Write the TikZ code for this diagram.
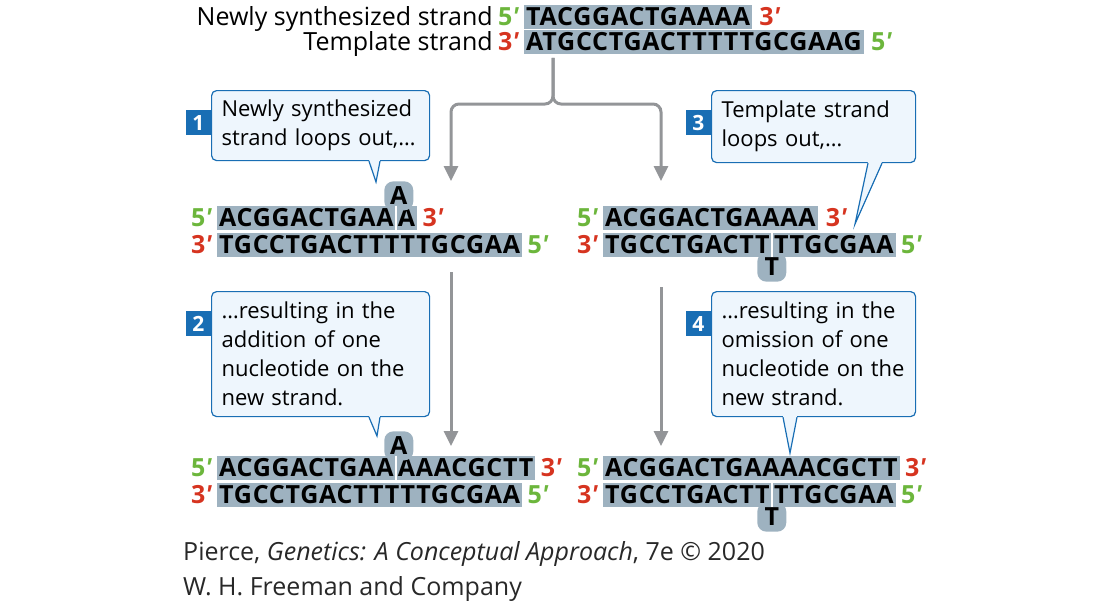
\documentclass[tikz,border=0pt]{standalone}
\usepackage{fontspec}
\setmainfont{Open Sans}
\usetikzlibrary{positioning}
\usetikzlibrary{arrows.meta}
\definecolor{seqgray}{RGB}{158,178,192}
\definecolor{fivegreen}{RGB}{108,182,60}
\definecolor{threered}{RGB}{214,52,32}
\definecolor{boxblue}{RGB}{25,110,180}
\definecolor{boxfill}{RGB}{238,246,253}
\definecolor{flowgray}{RGB}{147,149,152}
\definecolor{creditgray}{RGB}{40,40,40}
\newcommand{\seqfont}{\fontsize{25}{25}\selectfont\bfseries\addfontfeature{LetterSpace=3}}
\newcommand{\prm}{{\itshape ′}}

\begin{document}
\begin{tikzpicture}[x=1pt,y=-1pt]
      \tikzset{
        seq/.style={fill=seqgray, inner xsep=2pt, inner ysep=0pt, minimum height=24.5pt,
          text height=17.5pt, text depth=0pt, font=\seqfont},
        endfive/.style={seq, fill=none, inner xsep=0pt, text=fivegreen},
        endthree/.style={seq, fill=none, inner xsep=0pt, text=threered},
        loopout/.style={seq, rounded corners=9pt, minimum width=29pt, minimum height=29pt},
        strandlab/.style={inner sep=0pt, minimum height=24.5pt, text height=17.5pt, text depth=0pt,
          font=\fontsize{25}{25}\selectfont},
        callout/.style={draw=boxblue, fill=boxfill, line width=1.2pt, rounded corners=5pt,
          align=left, inner xsep=10pt, inner ysep=4pt, anchor=north west,
          font=\fontsize{22}{29}\selectfont},
        steplabel/.style={fill=boxblue, text=white, inner sep=0pt, minimum size=25pt,
          anchor=north east, font=\fontsize{21}{21}\selectfont\bfseries},
        tailline/.style={draw=boxblue, line width=1.2pt},
        flow/.style={draw=flowgray, line width=3pt, -{Triangle[length=15pt,width=14pt]}},
        splitline/.style={draw=white, line width=1.5pt},
      }
      \useasboundingbox (0,0) rectangle (1100,610);

      \node[seq, anchor=west] (newtop) at (524,17) {TACGGACTGAAAA};
      \node[endfive, left=5pt of newtop] (newtop5) {5\prm};
      \node[endthree, right=7pt of newtop] (newtop3) {3\prm};
      \node[strandlab, left=5pt of newtop5] (newlab) {Newly synthesized strand};
      \node[seq, anchor=west] (tmpl) at (524,42) {ATGCCTGACTTTTTGCGAAG};
      \node[endthree, left=5pt of tmpl] (tmpl3) {3\prm};
      \node[endfive, right=7pt of tmpl] (tmpl5) {5\prm};
      \node[strandlab, left=5pt of tmpl3] (tmpllab) {Template strand};

      \coordinate (stem) at (553,58);
      \coordinate (fork) at (553,104);
      \coordinate (forkleft) at (451,181);
      \coordinate (forkright) at (661,181);
      \draw[flow, rounded corners=8pt] (stem) -- (fork) -| (forkleft);
      \draw[flow, rounded corners=8pt] (stem) -- (fork) -| (forkright);

      \node[callout, text width=198pt, minimum height=70pt] (c1) at (211,90)
        {Newly synthesized\\strand loops out,…};
      \node[steplabel] (s1) at ([yshift=-20pt]c1.north west) {1};
      \node[callout, text width=198pt, minimum height=125pt] (c2) at (211,291)
        {…resulting in the\\addition of one\\nucleotide on the\\new strand.};
      \node[steplabel] (s2) at ([yshift=-20pt]c2.north west) {2};
      \node[callout, text width=184pt, minimum height=72pt] (c3) at (711,90)
        {Template strand\\loops out,…};
      \node[steplabel] (s3) at ([yshift=-20pt]c3.north west) {3};
      \node[callout, text width=184pt, minimum height=125pt] (c4) at (711,291)
        {…resulting in the\\omission of one\\nucleotide on the\\new strand.};
      \node[steplabel] (s4) at ([yshift=-20pt]c4.north west) {4};

      \coordinate (t1) at (376,182);
      \coordinate (t2) at (377,436);
      \coordinate (t3) at (855,224);
      \coordinate (t4) at (790,453);
      \fill[boxfill] ([xshift=158pt,yshift=1.5pt]c1.south west) -- (t1) -- ([xshift=169pt,yshift=1.5pt]c1.south west) -- cycle;
      \draw[tailline] ([xshift=158pt]c1.south west) -- (t1) -- ([xshift=169pt]c1.south west);
      \fill[boxfill] ([xshift=158pt,yshift=1.5pt]c2.south west) -- (t2) -- ([xshift=169pt,yshift=1.5pt]c2.south west) -- cycle;
      \draw[tailline] ([xshift=158pt]c2.south west) -- (t2) -- ([xshift=169pt]c2.south west);
      \fill[boxfill] ([xshift=157pt,yshift=1.5pt]c3.south west) -- (t3) -- ([xshift=171pt,yshift=1.5pt]c3.south west) -- cycle;
      \draw[tailline] ([xshift=157pt]c3.south west) -- (t3) -- ([xshift=171pt]c3.south west);
      \fill[boxfill] ([xshift=72pt,yshift=1.5pt]c4.south west) -- (t4) -- ([xshift=86pt,yshift=1.5pt]c4.south west) -- cycle;
      \draw[tailline] ([xshift=72pt]c4.south west) -- (t4) -- ([xshift=86pt]c4.south west);

      \node[seq, anchor=west] (ml1a) at (217,218) {ACGGACTGAA};
      \node[seq, right=0pt of ml1a] (ml1b) {A};
      \node[endfive, left=5pt of ml1a] (ml1five) {5\prm};
      \node[endthree, right=5pt of ml1b] (ml1three) {3\prm};
      \node[loopout, anchor=south] (mlloop) at ([xshift=3pt,yshift=-5pt]ml1a.north east) {A};
      \draw[splitline] (ml1a.north east) -- (ml1a.south east);
      \node[seq, anchor=west] (ml2) at (217,245) {TGCCTGACTTTTTGCGAA};
      \node[endthree, left=5pt of ml2] (ml2three) {3\prm};
      \node[endfive, right=5pt of ml2] (ml2five) {5\prm};

      \node[seq, anchor=west] (mr1) at (603,218) {ACGGACTGAAAA};
      \node[endfive, left=5pt of mr1] (mr1five) {5\prm};
      \node[endthree, right=8pt of mr1] (mr1three) {3\prm};
      \node[seq, anchor=west] (mr2a) at (603,245) {TGCCTGACTT};
      \node[seq, right=0pt of mr2a] (mr2b) {TTGCGAA};
      \node[endthree, left=5pt of mr2a] (mr2three) {3\prm};
      \node[endfive, right=5pt of mr2b] (mr2five) {5\prm};
      \node[loopout, anchor=north] (mrloop) at ([yshift=5pt]mr2a.south east) {T};
      \draw[splitline] (mr2a.north east) -- (mr2a.south east);

      \coordinate (leftstart) at (451,272);
      \coordinate (leftend) at (451,446);
      \coordinate (rightstart) at (661,287);
      \coordinate (rightend) at (661,446);
      \draw[flow] (leftstart) -- (leftend);
      \draw[flow] (rightstart) -- (rightend);

      \node[seq, anchor=west] (bl1a) at (217,468) {ACGGACTGAA};
      \node[seq, right=0pt of bl1a] (bl1b) {AAACGCTT};
      \node[endfive, left=5pt of bl1a] (bl1five) {5\prm};
      \node[endthree, right=5pt of bl1b] (bl1three) {3\prm};
      \node[loopout, anchor=south] (blloop) at ([xshift=3pt,yshift=-5pt]bl1a.north east) {A};
      \draw[splitline] (bl1a.north east) -- (bl1a.south east);
      \node[seq, anchor=west] (bl2) at (217,495) {TGCCTGACTTTTTGCGAA};
      \node[endthree, left=5pt of bl2] (bl2three) {3\prm};
      \node[endfive, right=5pt of bl2] (bl2five) {5\prm};

      \node[seq, anchor=west] (br1) at (603,468) {ACGGACTGAAAACGCTT};
      \node[endfive, left=5pt of br1] (br1five) {5\prm};
      \node[endthree, right=5pt of br1] (br1three) {3\prm};
      \node[seq, anchor=west] (br2a) at (603,495) {TGCCTGACTT};
      \node[seq, right=0pt of br2a] (br2b) {TTGCGAA};
      \node[endthree, left=5pt of br2a] (br2three) {3\prm};
      \node[endfive, right=5pt of br2b] (br2five) {5\prm};
      \node[loopout, anchor=north] (brloop) at ([yshift=5pt]br2a.south east) {T};
      \draw[splitline] (br2a.north east) -- (br2a.south east);

      \node[anchor=north west, align=left, inner sep=0pt, text=creditgray,
        font=\fontsize{25}{35}\selectfont] (credit) at (183,541)
        {Pierce, \textit{Genetics: A Conceptual Approach}, 7e © 2020\\W. H. Freeman and Company};
\end{tikzpicture}
\end{document}
